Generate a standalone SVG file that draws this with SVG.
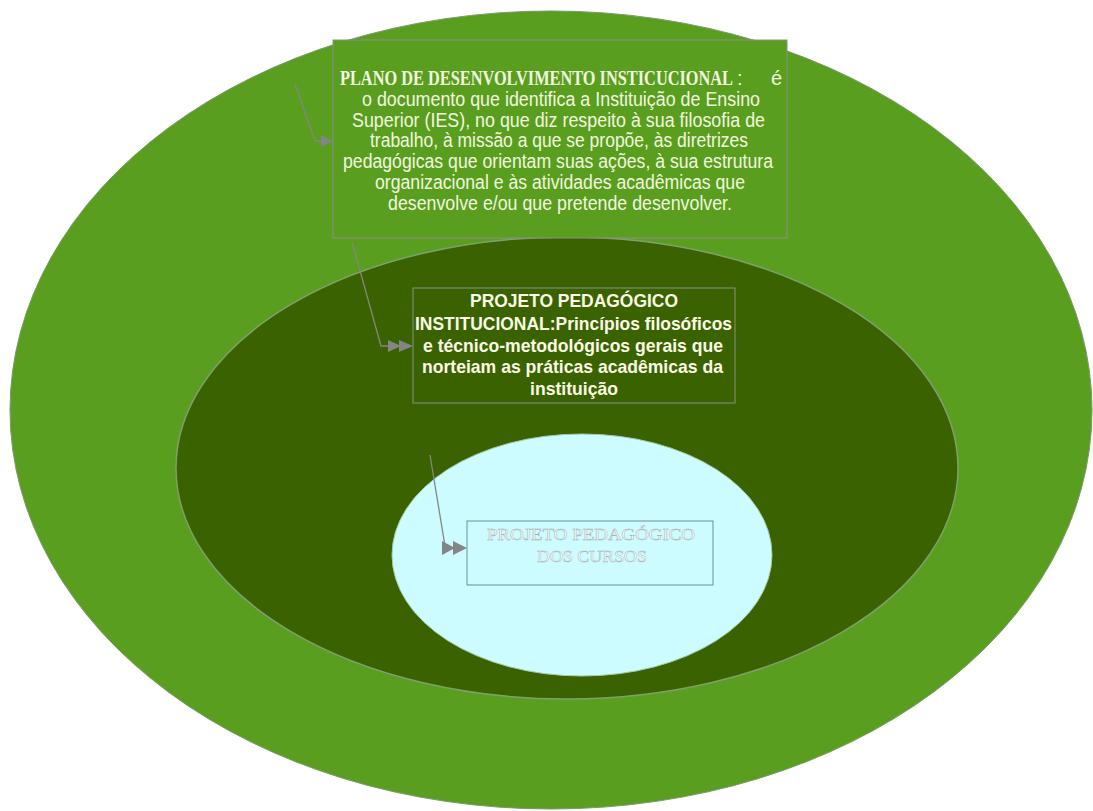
<svg xmlns="http://www.w3.org/2000/svg" width="1093" height="811" viewBox="0 0 1093 811">
<style>
.box{stroke:#8a8f8a;stroke-width:1}
.t1{font-family:"Liberation Sans",Arial,sans-serif;font-size:20px;fill:#f1f8df}
.t1b{font-family:"Liberation Serif","Times New Roman",serif;font-size:20px;font-weight:bold;fill:#f1f8df}
.t2{font-family:"Liberation Sans",Arial,sans-serif;font-size:19px;font-weight:bold;fill:#fbfbe8}
.t3{font-family:"Liberation Serif","Times New Roman",serif;font-size:17px;fill:#ffffff;stroke:#a8b0b0;stroke-width:0.5}
.con{fill:none;stroke:#858585;stroke-width:1.3}
.ah{fill:#858585}
</style>
<rect width="1093" height="811" fill="#ffffff"/>
<g id="outer">
<ellipse cx="551" cy="410" rx="541" ry="399" fill="#5a9e1f" stroke="#7a9a6a" stroke-width="1"/>
</g>
<g id="middle">
<ellipse cx="567" cy="468" rx="391" ry="231" fill="#3a6300" stroke="#7f9f70" stroke-width="1.5"/>
</g>
<g id="inner">
<ellipse cx="582" cy="555" rx="190" ry="121" fill="#ccfcff" stroke="#a8c8b0" stroke-width="1"/>
</g>
<g id="pdi">
<rect class="box" x="333" y="40" width="454" height="198" fill="#5a9e1f"/>
<text class="t1b" transform="translate(340,85) scale(0.75,1)" x="0" y="0" textLength="524" lengthAdjust="spacingAndGlyphs">PLANO DE DESENVOLVIMENTO INSTICUCIONAL</text>
<text class="t1" x="737" y="85">:</text>
<text class="t1" x="771" y="85">é</text>
<text class="t1" x="561" y="106" text-anchor="middle" textLength="398" lengthAdjust="spacingAndGlyphs">o documento que identifica a Instituição de Ensino</text>
<text class="t1" x="558.5" y="127" text-anchor="middle" textLength="413" lengthAdjust="spacingAndGlyphs">Superior (IES), no que diz respeito à sua filosofia de</text>
<text class="t1" x="559" y="147" text-anchor="middle" textLength="378" lengthAdjust="spacingAndGlyphs">trabalho, à missão a que se propõe, às diretrizes</text>
<text class="t1" x="558" y="168" text-anchor="middle" textLength="430" lengthAdjust="spacingAndGlyphs">pedagógicas que orientam suas ações, à sua estrutura</text>
<text class="t1" x="560" y="189" text-anchor="middle" textLength="370" lengthAdjust="spacingAndGlyphs">organizacional e às atividades acadêmicas que</text>
<text class="t1" x="560" y="210" text-anchor="middle" textLength="344" lengthAdjust="spacingAndGlyphs">desenvolve e/ou que pretende desenvolver.</text>
</g>
<g id="ppi">
<rect class="box" x="413" y="288" width="322" height="115" fill="#3a6300"/>
<text class="t2" x="574" y="307" text-anchor="middle" textLength="208" lengthAdjust="spacingAndGlyphs">PROJETO PEDAGÓGICO</text>
<text class="t2" x="573.5" y="330" text-anchor="middle" textLength="317" lengthAdjust="spacingAndGlyphs">INSTITUCIONAL:Princípios filosóficos</text>
<text class="t2" x="573" y="352" text-anchor="middle" textLength="300" lengthAdjust="spacingAndGlyphs">e técnico-metodológicos gerais que</text>
<text class="t2" x="572.5" y="373" text-anchor="middle" textLength="301" lengthAdjust="spacingAndGlyphs">norteiam as práticas acadêmicas da</text>
<text class="t2" x="574" y="395" text-anchor="middle" textLength="88" lengthAdjust="spacingAndGlyphs">instituição</text>
</g>
<g id="ppc">
<rect x="467" y="521" width="246" height="64" fill="none" stroke="#6f8f90" stroke-width="1"/>
<text class="t3" x="591" y="540" text-anchor="middle" textLength="208" lengthAdjust="spacingAndGlyphs">PROJETO PEDAGÓGICO</text>
<text class="t3" x="592" y="562" text-anchor="middle" textLength="110" lengthAdjust="spacingAndGlyphs">DOS CURSOS</text>
</g>
<g id="connectors">
<polyline class="con" points="295,84 315,141 322,141"/>
<polygon class="ah" points="321,135 333,141 321,147"/>
<polyline class="con" points="352,242 381,346 388,346"/>
<polygon class="ah" points="388,340 401,346 388,352"/>
<polygon class="ah" points="399,340 413,346 399,352"/>
<polyline class="con" points="430,455 445,546"/>
<polygon class="ah" points="442,541 455,548 442,555"/>
<polygon class="ah" points="453,541 467,548 453,555"/>
</g>
</svg>
